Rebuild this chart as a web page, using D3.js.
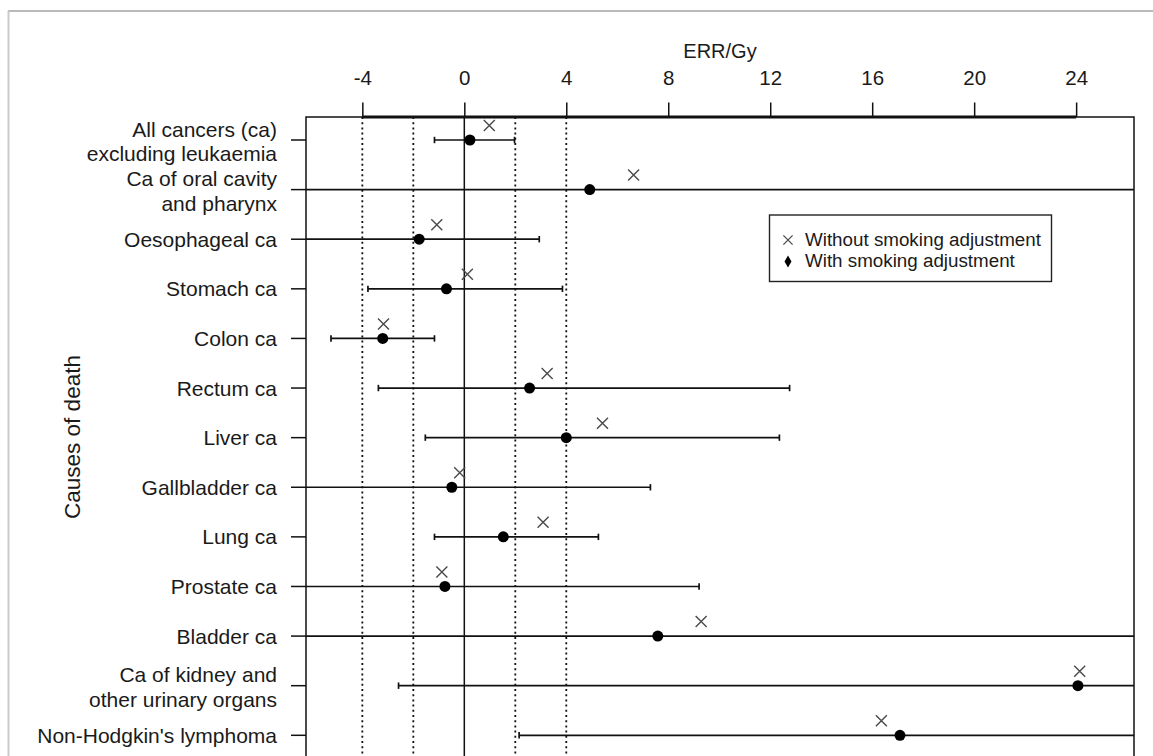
<!DOCTYPE html>
<html>
<head>
<meta charset="utf-8">
<script src="https://cdn.jsdelivr.net/npm/d3@7"></script>
<style>
  html, body { margin: 0; padding: 0; background: #fff; }
  svg { display: block; font-family: "Liberation Sans", Arial, sans-serif; }
</style>
</head>
<body>
<svg id="chart" width="1153" height="756"></svg>
<script>
// ---- data ----
const causes = [
  "All cancers (ca)\nexcluding leukaemia",
  "Ca of oral cavity\nand pharynx",
  "Oesophageal ca",
  "Stomach ca",
  "Colon ca",
  "Rectum ca",
  "Liver ca",
  "Gallbladder ca",
  "Lung ca",
  "Prostate ca",
  "Bladder ca",
  "Ca of kidney and\nother urinary organs",
  "Non-Hodgkin's lymphoma"
];
// ERR/Gy with smoking adjustment (point estimate)
const withAdj    = [0.22, 4.92, -1.77, -0.70, -3.20, 2.56, 4.00, -0.49, 1.53, -0.76, 7.59, 24.07, 17.09];
// ERR/Gy without smoking adjustment
const withoutAdj = [0.98, 6.64, -1.08, 0.12, -3.17, 3.25, 5.42, -0.18, 3.09, -0.88, 9.29, 24.14, 16.36];
// confidence interval bounds (null = beyond the plotted range)
const ciLower = [-1.17, null, null, -3.78, -5.23, -3.37, -1.53, null, -1.17, null, null, -2.58, 2.15];
const ciUpper = [1.97, null, 2.94, 3.85, -1.17, 12.76, 12.36, 7.30, 5.26, 9.21, null, null, null];
const xTicks = [-4, 0, 4, 8, 12, 16, 20, 24];
const refLines = [-4, -2, 2, 4];
const legendLabels = ["Without smoking adjustment", "With smoking adjustment"];
const xTitle = "ERR/Gy";
const yTitle = "Causes of death";

// ---- layout ----
const svg = d3.select("#chart");
const box = { left: 306, right: 1134, top: 117, bottom: 800 };
const x = d3.scaleLinear().domain([-6.21, 26.27]).range([box.left, box.right]);
const y = d3.scaleLinear().domain([0, causes.length - 1]).range([140, 735.3]);
const ink = "#1a1a1a";

// image frame
svg.append("line").attr("x1", 8).attr("x2", 1153).attr("y1", 11).attr("y2", 11)
  .attr("stroke", "#a3a3a3").attr("stroke-width", 1.5);
svg.append("line").attr("x1", 8.5).attr("x2", 8.5).attr("y1", 11).attr("y2", 756)
  .attr("stroke", "#cacaca").attr("stroke-width", 2);

svg.append("defs").append("clipPath").attr("id", "plotclip")
  .append("rect").attr("x", box.left).attr("y", box.top)
  .attr("width", box.right - box.left).attr("height", box.bottom - box.top);

const plot = svg.append("g").attr("clip-path", "url(#plotclip)");

// reference lines
plot.selectAll(".ref").data(refLines).join("line")
  .attr("x1", d => x(d)).attr("x2", d => x(d))
  .attr("y1", box.top).attr("y2", box.bottom)
  .attr("stroke", "#111").attr("stroke-width", 1.8)
  .attr("stroke-dasharray", "2,3.2");
plot.append("line")
  .attr("x1", x(0)).attr("x2", x(0)).attr("y1", box.top).attr("y2", box.bottom)
  .attr("stroke", "#111").attr("stroke-width", 1.5);

// error bars
const rows = causes.map((c, i) => ({ i, c, w: withAdj[i], wo: withoutAdj[i], lo: ciLower[i], hi: ciUpper[i] }));
const lx = d => d.lo == null ? box.left - 5 : x(d.lo);
const hx = d => d.hi == null ? box.right + 5 : x(d.hi);
plot.selectAll(".ci").data(rows).join("line")
  .attr("x1", lx).attr("x2", hx)
  .attr("y1", d => y(d.i)).attr("y2", d => y(d.i))
  .attr("stroke", "#111").attr("stroke-width", 1.7);
plot.selectAll(".capL").data(rows.filter(d => d.lo != null)).join("line")
  .attr("x1", d => x(d.lo)).attr("x2", d => x(d.lo))
  .attr("y1", d => y(d.i) - 3.2).attr("y2", d => y(d.i) + 3.2)
  .attr("stroke", "#111").attr("stroke-width", 1.7);
plot.selectAll(".capR").data(rows.filter(d => d.hi != null)).join("line")
  .attr("x1", d => x(d.hi)).attr("x2", d => x(d.hi))
  .attr("y1", d => y(d.i) - 3.2).attr("y2", d => y(d.i) + 3.2)
  .attr("stroke", "#111").attr("stroke-width", 1.7);

// points with adjustment
const dotSym = d3.symbol().type(d3.symbolCircle).size(Math.PI * 5.5 * 5.5);
plot.selectAll(".pt").data(rows).join("path")
  .attr("d", dotSym)
  .attr("transform", d => `translate(${x(d.w)},${y(d.i)})`)
  .attr("fill", "#000");

// crosses without adjustment
const crossPath = s => `M${-s},${-s}L${s},${s}M${-s},${s}L${s},${-s}`;
plot.selectAll(".xm").data(rows).join("path")
  .attr("d", crossPath(5.5))
  .attr("transform", d => `translate(${x(d.wo)},${y(d.i) - 14.5})`)
  .attr("stroke", "#4a4a4a").attr("stroke-width", 1.4).attr("fill", "none");

// box
svg.append("rect").attr("x", box.left).attr("y", box.top)
  .attr("width", box.right - box.left).attr("height", box.bottom - box.top)
  .attr("fill", "none").attr("stroke", "#111").attr("stroke-width", 1.5);

// top axis
const axis = svg.append("g").attr("transform", `translate(0,${box.top})`)
  .call(d3.axisTop(x).tickValues(xTicks).tickFormat(d3.format("d")).tickSize(14.5).tickPadding(18));
axis.select(".domain").remove();
axis.selectAll(".tick line").attr("stroke", "#111").attr("stroke-width", 1.5);
axis.selectAll(".tick text").attr("font-size", 20.5).attr("fill", ink)
  .attr("font-family", "'Liberation Sans', Arial, sans-serif")
  .text(d => d < 0 ? "-" + Math.abs(d) : d);
axis.append("line").attr("x1", x(xTicks[0])).attr("x2", x(xTicks[xTicks.length - 1]))
  .attr("y1", 0).attr("y2", 0).attr("stroke", "#111").attr("stroke-width", 3);

svg.append("text").attr("x", (box.left + box.right) / 2).attr("y", 57.5)
  .attr("text-anchor", "middle").attr("font-size", 20).attr("fill", ink).text(xTitle);

// y ticks and labels
svg.selectAll(".ytick").data(rows).join("line")
  .attr("x1", 291).attr("x2", box.left)
  .attr("y1", d => y(d.i)).attr("y2", d => y(d.i))
  .attr("stroke", "#111").attr("stroke-width", 1.5);
const lab = svg.selectAll(".ylab").data(rows).join("text")
  .attr("text-anchor", "end").attr("font-size", 21).attr("fill", ink);
lab.each(function(d) {
  const parts = d.c.split("\n");
  const t = d3.select(this);
  if (parts.length === 1) {
    t.append("tspan").attr("x", 277).attr("y", y(d.i) + 7.5).text(parts[0]);
  } else {
    t.append("tspan").attr("x", 277).attr("y", y(d.i) - 3.5).text(parts[0]);
    t.append("tspan").attr("x", 277).attr("y", y(d.i) + 21).text(parts[1]);
  }
});

svg.append("text").attr("transform", `translate(80,437) rotate(-90)`)
  .attr("text-anchor", "middle").attr("font-size", 22.5).attr("fill", ink).text(yTitle);

// legend
const lg = svg.append("g");
lg.append("rect").attr("x", 769.5).attr("y", 215).attr("width", 282).attr("height", 66.5)
  .attr("fill", "#fff").attr("stroke", "#222").attr("stroke-width", 1.4);
lg.append("path").attr("d", crossPath(4.6)).attr("transform", "translate(788,240)")
  .attr("stroke", "#4a4a4a").attr("stroke-width", 1.3).attr("fill", "none");
lg.append("path").attr("d", d3.symbol().type(d3.symbolDiamond).size(42))
  .attr("transform", "translate(788,261.5)").attr("fill", "#000");
lg.selectAll(".lt").data(legendLabels).join("text")
  .attr("x", 805).attr("y", (d, i) => 245.5 + i * 21.5)
  .attr("font-size", 18.8).attr("fill", ink).text(d => d);
</script>
</body>
</html>
